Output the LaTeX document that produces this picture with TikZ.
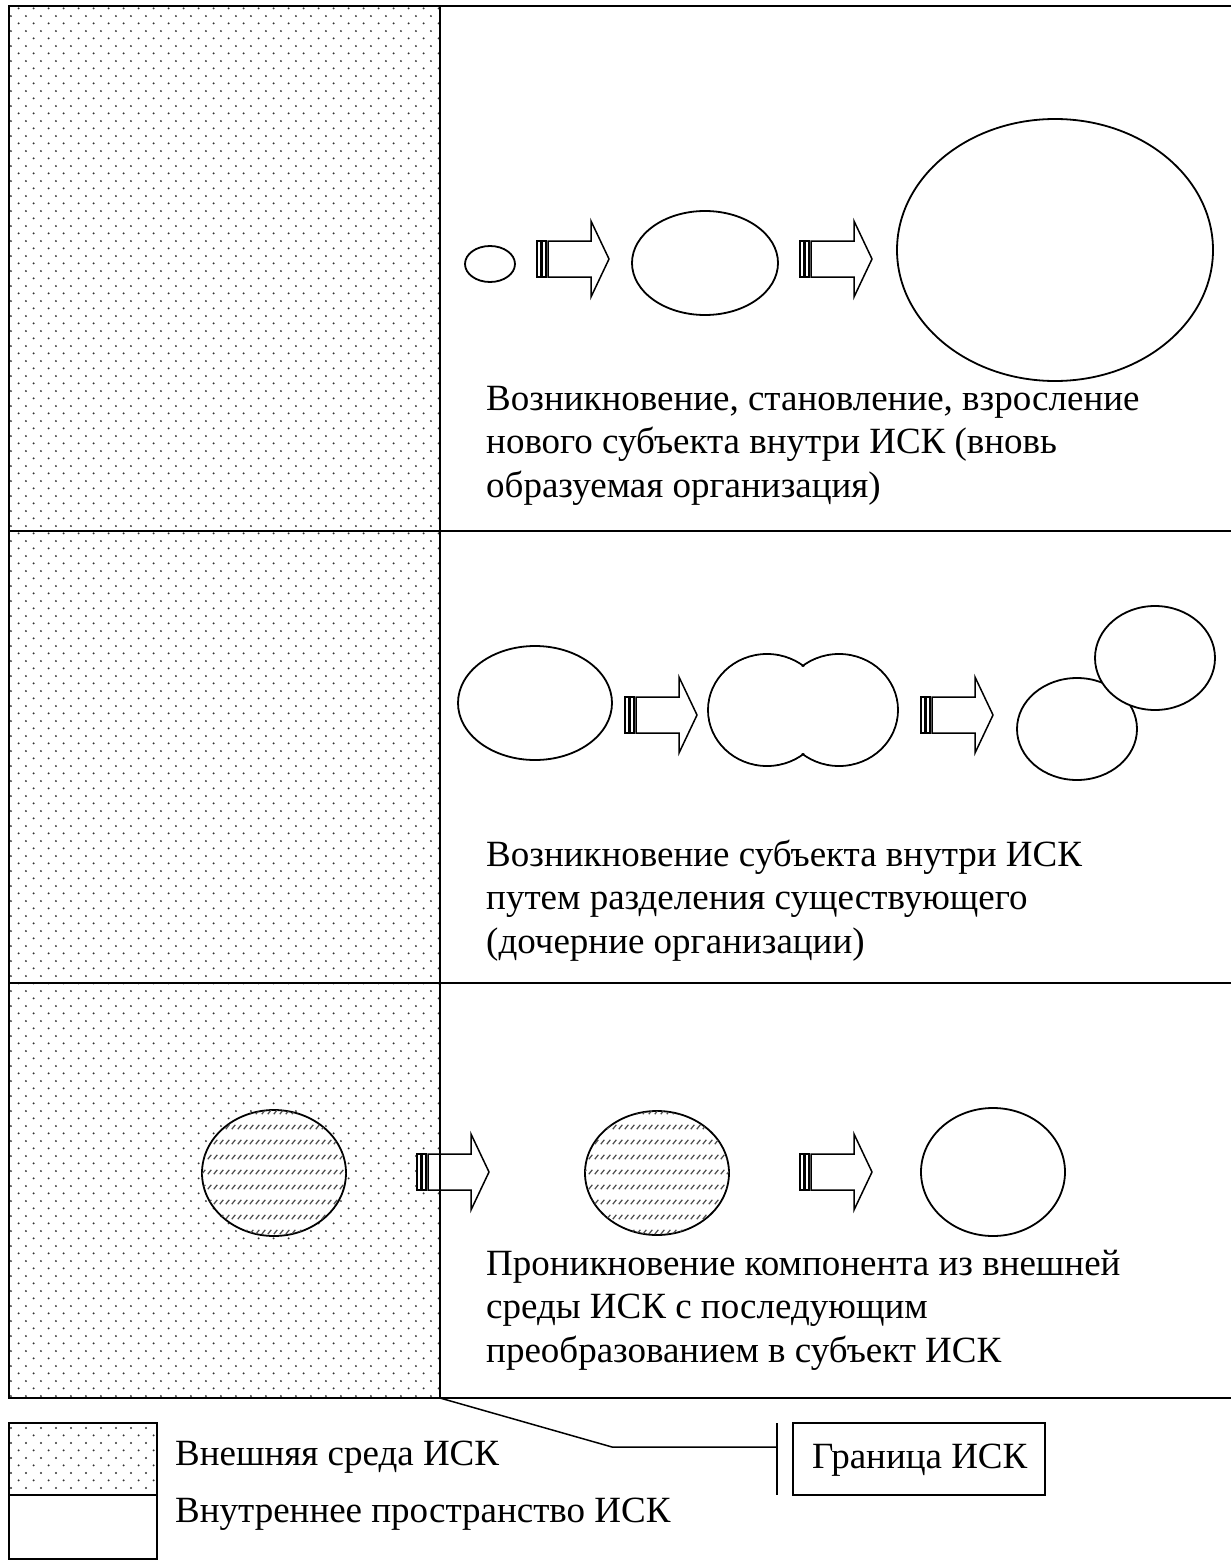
\documentclass[tikz,border=0pt]{standalone}
\usepackage{fontspec}
\setmainfont{Liberation Serif}
\usetikzlibrary{shapes.geometric,patterns}

\pgfdeclarepatternformonly{iskdots}{\pgfqpoint{0pt}{0pt}}{\pgfqpoint{15.3pt}{15.3pt}}{\pgfqpoint{15.3pt}{15.3pt}}{%
  \pgfpathcircle{\pgfqpoint{3.8pt}{3.8pt}}{1.1pt}%
  \pgfpathcircle{\pgfqpoint{11.45pt}{11.45pt}}{1.1pt}%
  \pgfusepath{fill}}
\pgfdeclarepatternformonly{iskhatch}{\pgfqpoint{0pt}{0pt}}{\pgfqpoint{5.6pt}{15.3pt}}{\pgfqpoint{5.6pt}{15.3pt}}{%
  \pgfsetlinewidth{1.3pt}%
  \pgfpathmoveto{\pgfqpoint{0.8pt}{5pt}}\pgfpathlineto{\pgfqpoint{4.6pt}{9.6pt}}%
  \pgfusepath{stroke}}

\newcommand\iskarrow[3]{%
  \begin{scope}[shift={(#2,#3)}]
    \draw[arrline] (11,-18) -- (54,-18) -- (54,-38) -- (72,0) -- (54,38) -- (54,18) -- (11,18) -- cycle;
    \draw[arrline] (0,-18) rectangle (4,18);
    \draw[arrline] (5.5,-18) rectangle (9,18);
    \coordinate (#1) at (36,0);
  \end{scope}}

\tikzset{
  frame/.style={line width=1.8pt},
  arrline/.style={line width=1.5pt, fill=white, line join=miter},
  ell/.style={shape=ellipse, draw, line width=1.8pt, fill=white, inner sep=0pt},
  hat/.style={ell, postaction={pattern=iskhatch, pattern color=black!70}},
  txt/.style={anchor=base west, inner sep=0pt, font=\fontsize{37}{43}\selectfont},
  dotsfill/.style={pattern=iskdots, pattern color=black!80}
}

\begin{document}
\begin{tikzpicture}[x=1pt,y=-1pt]
\useasboundingbox (0,0) rectangle (1231,1560);

% dotted outer environment
\fill[dotsfill] (9,6) rectangle (440,1398);

% ---- row 1
\node[ell, minimum width=50pt, minimum height=36pt] (a1) at (490,264) {};
\iskarrow{r1a}{537}{259}
\node[ell, minimum width=146pt, minimum height=104pt] (a2) at (705,263) {};
\iskarrow{r1b}{800}{259}
\node[ell, minimum width=316pt, minimum height=262pt] (a3) at (1055,250) {};
\node[txt] (t1a) at (486,410) {Возникновение, становление, взросление};
\node[txt] (t1b) at (486,453.5) {нового субъекта внутри ИСК (вновь};
\node[txt] (t1c) at (486,497) {образуемая организация)};

% ---- row 2
\node[ell, minimum width=154pt, minimum height=114pt] (b1) at (535,703) {};
\iskarrow{r2a}{625}{715}
\draw[line width=1.8pt] (767,710) ellipse [x radius=59, y radius=56];
\draw[line width=1.8pt] (839,710) ellipse [x radius=59, y radius=56];
\fill[white] (767,710) ellipse [x radius=57.6, y radius=54.6];
\fill[white] (839,710) ellipse [x radius=57.6, y radius=54.6];
\coordinate (b2) at (803,710);
\iskarrow{r2b}{921}{715}
\node[ell, minimum width=120pt, minimum height=102pt] (b3) at (1077,729) {};
\node[ell, minimum width=120pt, minimum height=104pt] (b4) at (1155,658) {};
\node[txt] (t2a) at (486,866) {Возникновение субъекта внутри ИСК};
\node[txt] (t2b) at (486,909.5) {путем разделения существующего};
\node[txt] (t2c) at (486,953) {(дочерние организации)};

% ---- row 3
\node[hat, minimum width=144pt, minimum height=126pt] (c1) at (274,1173) {};
\node[hat, minimum width=144pt, minimum height=124pt] (c2) at (657,1173) {};
\node[ell, minimum width=144pt, minimum height=128pt] (c3) at (993,1172) {};
\iskarrow{r3a}{417}{1172}
\iskarrow{r3b}{800}{1172}
\node[txt] (t3a) at (486,1275) {Проникновение компонента из внешней};
\node[txt] (t3b) at (486,1318.5) {среды ИСК с последующим};
\node[txt] (t3c) at (486,1362) {преобразованием в субъект ИСК};

% ---- frame
\draw[frame] (1231,6) -- (9,6) -- (9,1398) -- (1231,1398);
\draw[frame] (440,6) -- (440,1398);
\draw[frame] (9,531) -- (1231,531);
\draw[frame] (9,983) -- (1231,983);
\coordinate (corner) at (440,1398);

% ---- legend
\fill[dotsfill] (9,1423) rectangle (157,1495);
\draw[frame] (9,1423) rectangle (157,1495);
\draw[frame] (9,1495) rectangle (157,1559);
\node[txt] (l1) at (175,1465) {Внешняя среда ИСК};
\node[txt] (l2) at (175,1522) {Внутреннее пространство ИСК};

\node[draw, line width=1.3pt, minimum width=252pt, minimum height=72pt, inner sep=0pt] (grbox) at (919,1459) {};
\node[txt] (gr) at (812,1468) {Граница ИСК};
\coordinate (bar) at (777,1459);
\draw[line width=2.5pt] (777,1423) -- (777,1495);
\draw[line width=1.5pt] (corner) -- (612,1447) -- (777,1447);
\end{tikzpicture}
\end{document}
